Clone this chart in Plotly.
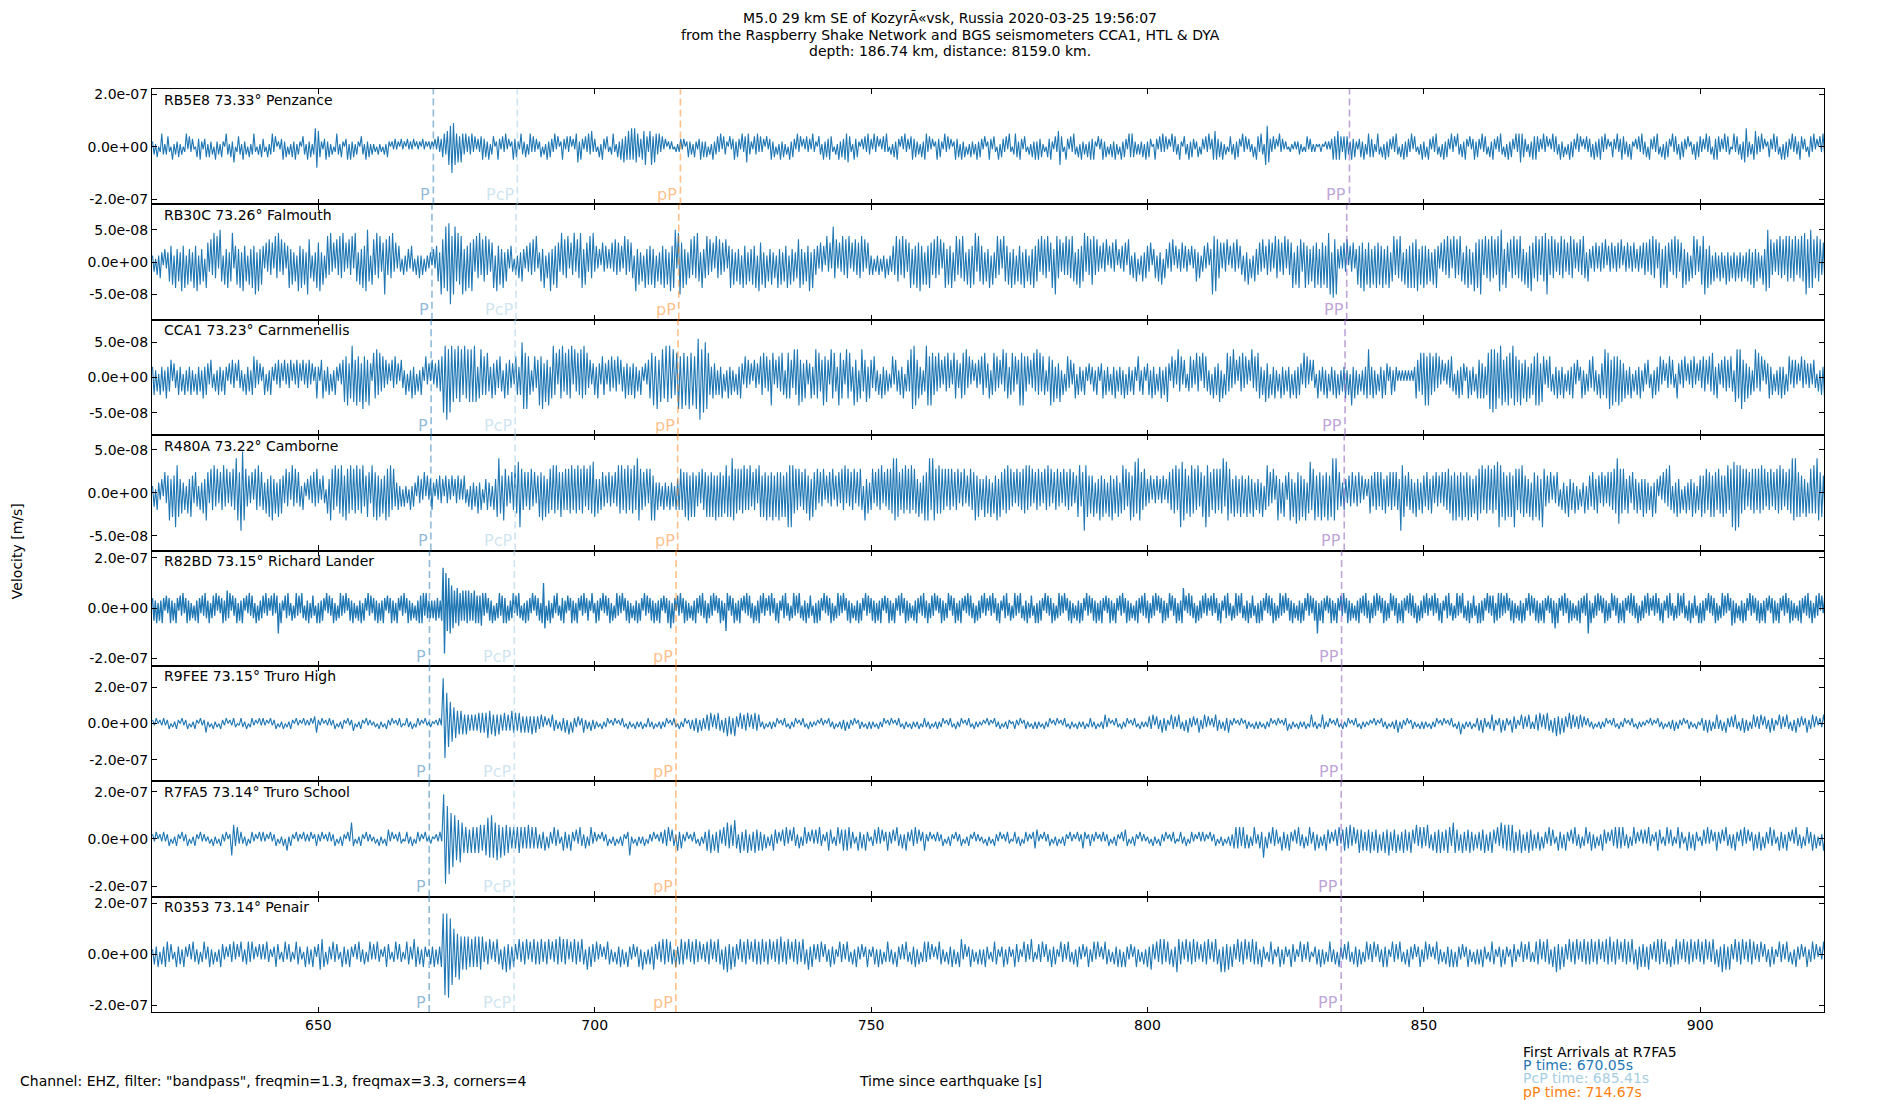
import plotly.graph_objects as go
from plotly.subplots import make_subplots

FONT = "DejaVu Sans"
T_START = 620.0
X_RANGE = [619.9, 922.4]

stations = ["RB5E8 73.33° Penzance", "RB30C 73.26° Falmouth", "CCA1 73.23° Carnmenellis",
            "R480A 73.22° Camborne", "R82BD 73.15° Richard Lander", "R9FEE 73.15° Truro High",
            "R7FA5 73.14° Truro School", "R0353 73.14° Penair"]
y_limit = [2.2e-7, 8.9e-8, 8.2e-8, 6.7e-8, 2.29e-7, 3.19e-7, 2.45e-7, 2.26e-7]
y_tick = [2e-7, 5e-8, 5e-8, 5e-8, 2e-7, 2e-7, 2e-7, 2e-7]
y_tick_text = [["-2.0e-07", "0.0e+00", "2.0e-07"], ["-5.0e-08", "0.0e+00", "5.0e-08"],
               ["-5.0e-08", "0.0e+00", "5.0e-08"], ["-5.0e-08", "0.0e+00", "5.0e-08"],
               ["-2.0e-07", "0.0e+00", "2.0e-07"], ["-2.0e-07", "0.0e+00", "2.0e-07"],
               ["-2.0e-07", "0.0e+00", "2.0e-07"], ["-2.0e-07", "0.0e+00", "2.0e-07"]]
peak_unit = [1e-8, 5e-9, 5e-9, 4e-9, 1e-8, 1e-8, 1e-8, 1e-8]
line_width = [1.1, 1.1, 1.1, 1.1, 1.3, 1.1, 1.1, 1.1]
x_ticks = [650, 700, 750, 800, 850, 900]

# arrival times per station [s]
arr_P = [670.8, 670.55, 670.4, 670.35, 670.1, 670.1, 670.05, 670.05]
arr_PcP = [686.0, 685.75, 685.6, 685.6, 685.45, 685.45, 685.41, 685.41]
arr_pP = [715.5, 715.2, 715.05, 715.0, 714.72, 714.72, 714.67, 714.67]
arr_PP = [836.55, 836.05, 835.75, 835.6, 835.12, 835.12, 835.05, 835.05]

# waveform peaks: one string per 10 s from 620 s,
# one base-36 digit per half cycle (sign alternates), in units of peak_unit
peaks_RB5E8 = [
    "231402531342051324130251423104352134", "142305231420531426024315230413520314",
    "320413524021352403142513204315241378", "642135241302531420351524132043152413",
    "120312031420213120312031213021203120", "212031423453678a97564653524352413245",
    "342513402531425130253421532413524231", "240315243251402531424031562531425362",
    "320415314203521425364565757654356742", "674653524130212102123130242314213524",
    "240315234251432041352431524653214352", "423041352403152413052431524031423152",
    "204315243542031524355642153420314253", "315240314252031425304152314534231425",
    "524130253421524130253415240314231524", "314025314205143241520354253142031425",
    "253412043521426742053142530415231425", "352041352403142513052431545423132415",
    "243015314252413052431520431524312403", "314251356534251302431524305241321405",
    "425317863241305231210211212312024132", "121012102121354565424543253421342513",
    "543412530415243142530415243251420315", "240531425304152431524053142530413524",
    "315243042531425304152431525654321425", "454231524031524315240315243152403142",
    "341524354251302431523543241520314253", "240531425304152430524315243140231524",
    "423152430535423152430152431526742315", "634251302431524305152431524325413204",
    "425130425314253142530415243152420314"]
peaks_RB30C = [
    "231425314236572846395827463859274618", "63749582a6274836925748395627485a3947",
    "52637462859374625847362958473a752638", "69372584936274859362748296374859a627",
    "7495836a748593625314234253142524132", "23142563a78b9cd8ab6978a4958697385947",
    "68473682957483642531425364253647382", "36482539475863947582649375984763859",
    "35241635242637463528473652947362847", "5748263758473958a29a684735748596384",
    "58473628574637258473647285736475829", "67382647352847365827463578473659384",
    "45263518362b57263847582637465837264", "24132413251423548674857368475869573",
    "75864758472684758368475863748579386", "57364827358472865738472657384627485",
    "673847583684a85736484758637485693847", "78473526371526371425361742536142635",
    "53614526371542637152436253415246352", "352614a897562637152637254263715264",
    "46372547362857364827468375873685746", "58674867589a3b7a42526371536247586947",
    "68475867584758368475863748586879475", "85746374852637485728574863758473968",
    "7a748576857489a74863758475864738596", "58674869a74857364857364857263748536",
    "42536253627153625362715362536243526", "46374857268475863748573684736258473",
    "578a48572635263527362536253625364738", "46352749a874637485748685768475869a78",
    "a8758674685748673857485738647586947"]
peaks_CCA1 = [
    "352415342634514325341524352415342635", "425314253425314253415324153425635241",
    "351425314253415243514253415243524136", "315624351425314257684697586749675841",
    "768574635241536241532514263514253162", "415243546a9c8a97869785968787973685",
    "657436455364264553426535a9796524635", "869475836957286947586928475869573524",
    "536426542546354625436453546342531425", "678695786979685796978697869bc8a",
    "a97536452536142635241536426352415342", "657364587253647526765385885746524635",
    "867458675286743876528674385726845736", "536425163524136254253614548998563524",
    "986875647352647352765346758362514352", "657346257463528476357462587864625374",
    "857465246857364725146352461534253142", "342531462534153624352615342531642531",
    "452635143625374163528462531463527461", "736425163547261574638251647362518364",
    "763527461536241635243615263542736251", "531624352614352615243625183625142536",
    "853625143625413524312121212121365475", "786875647362514253641526354136253416",
    "564635798a89769857687698675846573645", "687847625364153625361425364251362514",
    "536425164586795867685746253614253624", "425316253462514362531642536142536241",
    "536452647536425364536427868957463524", "837461524635142536351462535241635243",
    "425314253641325142531624153426351425"]
peaks_R480A = [
    "241532416358475a87463526475364253648", "637584736584736475a86bc874536275846",
    "536475846374653746284736425314253647", "342531648758476875876857685768457638",
    "768574658778574352414231524315342615", "245314253415342514352425314253426351",
    "345342547a658745365869a75646574635", "768574675868567657576857685768475869",
    "746456453645364868576857685a8756473", "785835342534253425457567685767546375",
    "675767585767568757a876757685758465738", "757685768576867576a8a867574657658476",
    "573647253647254637583746573647528463", "573647583647576a8a7657685768576473658",
    "68a5a876867574757465736473547568574", "547564736584765768574637465768584736",
    "574637584736574637465746357846b8756", "573648574637584657368574685796a86574",
    "435243524352436576857a9876578675846", "75a8765767576a498764756475647564735",
    "463725846372584637526847396857483695", "785768576857a8a5643543546354635241",
    "465465646546546564654b87546546374536", "546546536453646576586857685768574658",
    "7685768576859a876857675a757687564738", "67584a7453625364153627453625143625",
    "546546536453646576a97675465365463547", "463527364152637485263746152635473625",
    "575675675765765756857a9b8a8675746576", "757685746574657685746576a8a767564736",
    "7686a867574657685746574657685746576"]
peaks_R82BD = [
    "4536253641524635264153624635241536425364", "3624536152463574615346253641526354261534",
    "52634153625a2631546325146352641536245316", "2635416253462514635261453624153625416352",
    "4536253641524635264153624635241536566364", "3434354435gie9ca98768765757675657656576",
    "3624536152463564615346253641526354261534", "526a8153624526315463251463526415362453162",
    "2635416253462514635261453624153625416352", "4536253641524638264153624635241536425364",
    "3624536152463529615346253641526354261536", "5263415362452631546325146352641536245316",
    "2635416253462514635261453624153625416352", "4536253641524635264153624635241536425364",
    "3624536152463524615346253641526354261534", "5263415362452631546325146352641536245316",
    "2635416253462514635261453624153625416352", "4536253641524635264153624635241536425364",
    "3624536152463524615346253681526354261534", "5263415362452631546325146352641536245316",
    "2635416253462514635261453624153625416352", "453a253641524635264153624635241536425364",
    "3624536152463524615346253641526354261534", "5263415362452631546325146352641536245316",
    "2635416253562564635261453624153625416352", "453625364152463826415362463524153642536a",
    "3624536152463524615346253641526354261534", "5263415362452631546325146352641536245316",
    "2635416253462514635261473624153625416352", "4536253641524635264153624635241536425364",
    "3624536152463524615346253641526354261534"]
peaks_R9FEE = [
    "213021312302132031230213203125", "120312032130213201321302312031", "312031230213021320312031213045",
    "213021312302132031240213203121", "120312032130213201321302312031", "12102131pjhdca98767656545454656",
    "568765756546454756465454546454", "352413254231435261532413523142", "312031230213021320312031213023",
    "213021312302132031230232435243", "354625364253746374263546253645", "213021312302132031230213203121",
    "120312032130213241321302312031", "312031230213021320312031213023", "213021312302132031230213203121",
    "120312032130213201321302312031", "312031230213021320312031213023", "213021352302132031230213203121",
    "243514325342153425314253241352", "352413254231435213021302312031", "312031230213021340312031213025",
    "213025312302132031230213203121", "120312032130213251321302312031", "312031230213021320316031213023",
    "425321354213524312543215342531", "354625364253746354263524352413", "213021312302132031230213203121",
    "120312032130213241321302312031", "134252413532415324253143524135", "243514325342153425314253241352",
    "352413254231435241532413523142"]
peaks_R7FA5 = [
    "213021312302132031230213203121", "120312032130276352321302312031", "312031230213051320312031213023",
    "213021312302132031730213203121", "120312034130213201321302312031", "12102131jjefbca98a765646565665",
    "6798a8796857665454565454645454", "243514325342153425314253241352", "312031230213021320371203121302",
    "213021324351432534213021320312", "354625364253746384263546253645", "352413254231435241532413523142",
    "425321354213524545543215342531", "134252413532415324253143524135", "213021312302132031230213203121",
    "120312032130213201321302312034", "412031230213021320312031243023", "213021312302132031430213203121",
    "120312032130213201321302312031", "312031230213021324545354241352", "243814325342153425314253241352",
    "352413254231435245546352464535", "463546253647354625364536426354", "536425364635465376452635463524",
    "354625364253746565663546253645", "243514325342153425314253241352", "352413254231435454532413523142",
    "425321354213524312543215342531", "134252413532415324253143524135", "243514325342153425314253241352",
    "352413254231435241532413523142"]
peaks_R0353 = [
    "243514355342153425314253241352", "352413254231435241532453523142", "425321354213524312543215342531",
    "466514325342153425314253241352", "425321354213524312543265342531", "24352435gggheca98a7676756575767",
    "354625364263746354263546253645", "463546253647364625364536426354", "352413254231435241532413526142",
    "436425364635425346452635463524", "354625364263746354263546253645", "463546253647354625364536426354",
    "243514325342153425314253241352", "134252413532415324253143524135", "352413254231435241562413523142",
    "425321354213524312543215342631", "243514325342153425314253241352", "352513254231435251532413523142",
    "536425364635425376452635463524", "354625364273746354263546253645", "425321354213524312543215342531",
    "134252413532415324253143524135", "243514325352153425314253241352", "352413254231435251532413523142",
    "425321354213524312543215342531", "354625364253746354263546253645", "463546253647354625364536426354",
    "536425364635425346452635463526", "354625364253746364263546253645", "243514325342153425314253241352",
    "352413254231435241532413523142"]

all_peaks = [peaks_RB5E8, peaks_RB30C, peaks_CCA1, peaks_R480A,
             peaks_R82BD, peaks_R9FEE, peaks_R7FA5, peaks_R0353]

P_COLOR = "rgba(31,119,180,0.5)"
PCP_COLOR = "rgba(166,206,227,0.55)"
PPD_COLOR = "rgba(255,127,14,0.5)"
PP_COLOR = "rgba(148,103,189,0.6)"


def unpack(chunks, unit):
    t, v = [], []
    sign = 1
    for k, chunk in enumerate(chunks):
        step = 10.0 / len(chunk)
        for j, c in enumerate(chunk):
            t.append(T_START + 10 * k + j * step)
            v.append(sign * int(c, 36) * unit)
            sign = -sign
    return t, v


fig = make_subplots(rows=8, cols=1, shared_xaxes=True, vertical_spacing=0)

for i in range(8):
    row = i + 1
    t, v = unpack(all_peaks[i], peak_unit[i])
    fig.add_trace(go.Scatter(x=t, y=v, mode="lines", line=dict(color="#1f77b4", width=line_width[i]),
                             showlegend=False, hoverinfo="skip"), row=row, col=1)

    ax = "" if row == 1 else str(row)
    for tt, col, name in [(arr_P[i], P_COLOR, "P"), (arr_PcP[i], PCP_COLOR, "PcP"),
                          (arr_pP[i], PPD_COLOR, "pP"), (arr_PP[i], PP_COLOR, "PP")]:
        fig.add_shape(type="line", x0=tt, x1=tt, y0=0, y1=1, xref="x" + ax, yref="y" + ax + " domain",
                      line=dict(color=col, width=1.6, dash="7px,4px"))
        fig.add_annotation(x=tt, y=0.085, xref="x" + ax, yref="y" + ax + " domain", text=name,
                           showarrow=False, xanchor="right", yanchor="middle", xshift=-1,
                           font=dict(family=FONT, size=16, color=col))

    fig.add_annotation(x=0.006, y=0.908, xref="x" + ax + " domain", yref="y" + ax + " domain",
                       text=stations[i], showarrow=False, xanchor="left", yanchor="middle",
                       font=dict(family=FONT, size=14, color="black"))

    fig.update_yaxes(range=[-y_limit[i], y_limit[i]], tickvals=[-y_tick[i], 0, y_tick[i]],
                     ticktext=y_tick_text[i], row=row, col=1)

fig.update_xaxes(range=X_RANGE, tickvals=x_ticks, ticks="inside", ticklen=5, tickcolor="black",
                 showline=True, mirror="ticks", linecolor="black", linewidth=1.3,
                 showgrid=False, zeroline=False, tickfont=dict(family=FONT, size=14, color="black"))
fig.update_yaxes(ticks="inside", ticklen=5, tickcolor="black", showline=True, mirror="ticks",
                 linecolor="black", linewidth=1.3, showgrid=False, zeroline=False,
                 tickfont=dict(family=FONT, size=14, color="black"))

# title lines
for yy, txt in [(1.0765, "M5.0 29 km SE of KozyrÃ«vsk, Russia 2020-03-25 19:56:07"),
                (1.0581, "from the Raspberry Shake Network and BGS seismometers CCA1, HTL &amp; DYA"),
                (1.0411, "depth: 186.74 km, distance: 8159.0 km.")]:
    fig.add_annotation(x=0.4773, y=yy, xref="paper", yref="paper", text=txt, showarrow=False,
                       xanchor="center", yanchor="middle", font=dict(family=FONT, size=14, color="black"))

fig.add_annotation(x=-0.081, y=0.4988, xref="paper", yref="paper", text="Velocity [m/s]",
                   textangle=-90, showarrow=False, xanchor="center", yanchor="middle",
                   font=dict(family=FONT, size=14, color="black"))
fig.add_annotation(x=-0.0804, y=-0.0748, xref="paper", yref="paper",
                   text='Channel: EHZ, filter: "bandpass", freqmin=1.3, freqmax=3.3, corners=4',
                   showarrow=False, xanchor="left", yanchor="middle",
                   font=dict(family=FONT, size=14, color="black"))
fig.add_annotation(x=0.4773, y=-0.0748, xref="paper", yref="paper", text="Time since earthquake [s]",
                   showarrow=False, xanchor="center", yanchor="middle",
                   font=dict(family=FONT, size=14, color="black"))

for yy, txt, col in [(-0.0430, "First Arrivals at R7FA5", "black"),
                     (-0.0574, "P time: 670.05s", "#1f77b4"),
                     (-0.0718, "PcP time: 685.41s", "#a6cee3"),
                     (-0.0870, "pP time: 714.67s", "#ff7f0e")]:
    fig.add_annotation(x=0.8186, y=yy, xref="paper", yref="paper", text=txt, showarrow=False,
                       xanchor="left", yanchor="middle", font=dict(family=FONT, size=14, color=col))

fig.update_layout(width=1900, height=1100, margin=dict(l=152, r=76, t=89, b=88),
                  paper_bgcolor="white", plot_bgcolor="white", showlegend=False,
                  font=dict(family=FONT, size=14, color="black"))

fig.write_html("out.html", config={"displayModeBar": False},
               post_script="document.body.style.margin='0';")
